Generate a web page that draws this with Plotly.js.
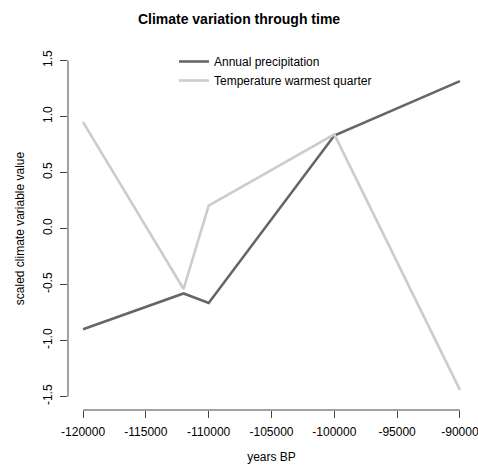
<!DOCTYPE html>
<html>
<head>
<meta charset="utf-8">
<script src="https://cdn.plot.ly/plotly-3.0.1.min.js"></script>
<style>html,body{margin:0;padding:0;background:#fff;}#chart{width:478px;height:467px;}</style>
</head>
<body>
<div id="chart"></div>
<script>
const years = [-120000, -112000, -110000, -100000, -90000];
const annualPrecipitation = [-0.90, -0.58, -0.665, 0.83, 1.315];
const tempWarmestQuarter = [0.95, -0.54, 0.205, 0.84, -1.44];
const xTicks = [-120000, -115000, -110000, -105000, -100000, -95000, -90000];
const yTicks = [-1.5, -1.0, -0.5, 0.0, 0.5, 1.0, 1.5];
const yTickLabels = ["-1.5", "-1.0", "-0.5", "0.0", "0.5", "1.0", "1.5"];

const FONT = "Liberation Sans, Arial, sans-serif";
const AXC = "#444444";

const traces = [
  {x: years, y: annualPrecipitation, type: "scatter", mode: "lines", name: "Annual precipitation",
   line: {color: "#666666", width: 2.6}},
  {x: years, y: tempWarmestQuarter, type: "scatter", mode: "lines", name: "Temperature warmest quarter",
   line: {color: "#cccccc", width: 2.6}}
];

const layout = {
  width: 478, height: 467,
  margin: {l: 68, r: 3, t: 47, b: 57, pad: 0},
  paper_bgcolor: "#ffffff", plot_bgcolor: "#ffffff",
  font: {family: FONT, size: 12, color: "#000000"},
  title: {text: "<b>Climate variation through time</b>", font: {family: FONT, size: 14, color: "#000"},
          x: 0.5, xref: "container", xanchor: "center", y: 1 - 19/467, yref: "container", yanchor: "middle"},
  xaxis: {
    range: [-121200, -88800], showgrid: false, zeroline: false, showline: false,
    tickmode: "array", tickvals: xTicks, ticktext: xTicks.map(String),
    ticks: "outside", ticklen: 7, tickwidth: 1, tickcolor: AXC, ticklabeloverflow: "allow",
    tickfont: {family: FONT, size: 12, color: "#000"}, ticklabelstandoff: 4,
    title: {text: "years BP", font: {family: FONT, size: 12, color: "#000"}, standoff: 14}
  },
  yaxis: {
    range: [-1.62, 1.62], showgrid: false, zeroline: false, showline: false,
    tickmode: "array", tickvals: yTicks, ticktext: yTickLabels, tickangle: -90,
    ticks: "outside", ticklen: 7, tickwidth: 1, tickcolor: AXC, ticklabeloverflow: "allow",
    tickfont: {family: FONT, size: 12, color: "#000"}, ticklabelstandoff: 3,
    title: {text: "scaled climate variable value", font: {family: FONT, size: 12, color: "#000"}, standoff: 14}
  },
  shapes: [
    {type: "line", xref: "x", yref: "paper", x0: xTicks[0], x1: xTicks[xTicks.length-1], y0: 0, y1: 0,
     line: {color: AXC, width: 1}},
    {type: "line", xref: "paper", yref: "y", x0: 0, x1: 0, y0: yTicks[0], y1: yTicks[yTicks.length-1],
     line: {color: AXC, width: 1}}
  ],
  showlegend: true,
  legend: {x: (174 - 68) / 407, xanchor: "left", y: 1 - (47 - 47) / 363, yanchor: "top",
           bgcolor: "rgba(0,0,0,0)", borderwidth: 0, itemwidth: 30,
           font: {family: FONT, size: 12, color: "#000"}}
};

Plotly.newPlot("chart", traces, layout, {displayModeBar: false, staticPlot: true});
</script>
</body>
</html>
